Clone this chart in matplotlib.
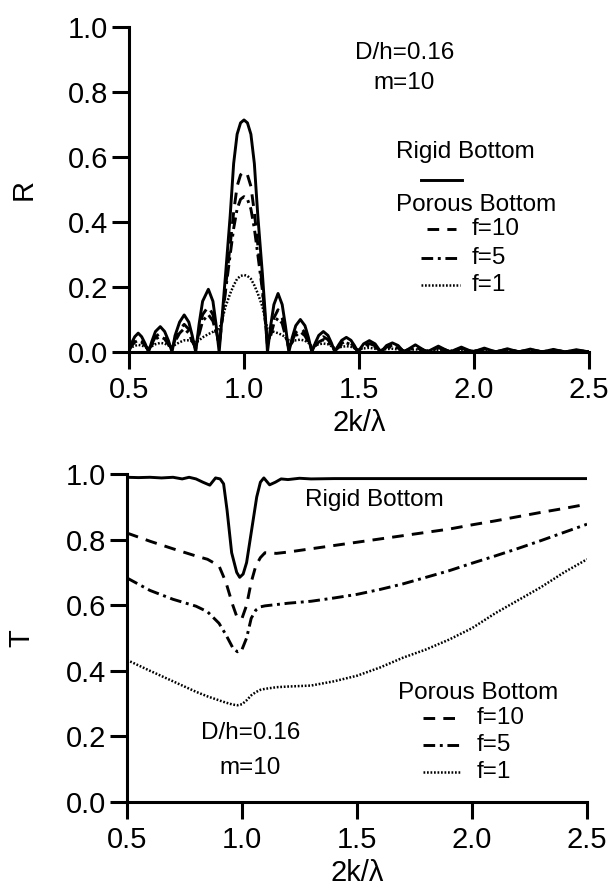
import matplotlib
matplotlib.use("Agg")
import matplotlib.pyplot as plt
from matplotlib.lines import Line2D

plt.rcParams['font.family'] = ['Liberation Sans', 'DejaVu Sans']

# ---------------- data: reflection R ----------------
k_R = [0.50, 0.51, 0.525, 0.54, 0.555, 0.57, 0.585,
       0.60, 0.615, 0.636, 0.655, 0.672, 0.687,
       0.70, 0.72, 0.74, 0.76, 0.775, 0.79,
       0.805, 0.82, 0.845, 0.865, 0.878, 0.892,
       0.905, 0.92, 0.94, 0.955, 0.97, 0.985, 1.00, 1.015, 1.03, 1.045,
       1.06, 1.08, 1.092, 1.102,
       1.116, 1.13, 1.148, 1.166, 1.18, 1.195,
       1.21, 1.225, 1.245, 1.265, 1.28, 1.295,
       1.31, 1.325, 1.345, 1.365, 1.38, 1.395,
       1.41, 1.425, 1.445, 1.465, 1.48, 1.495,
       1.52, 1.545, 1.57, 1.595,
       1.62, 1.645, 1.67, 1.695,
       1.745, 1.795, 1.845, 1.895, 1.945, 1.995, 2.045, 2.095,
       2.145, 2.195, 2.245, 2.295, 2.345, 2.395, 2.445, 2.50]

R_rigid = [0.00, 0.026, 0.047, 0.058, 0.047, 0.026, 0.00,
           0.034, 0.063, 0.078, 0.063, 0.034, 0.00,
           0.050, 0.092, 0.114, 0.092, 0.050, 0.00,
           0.087, 0.156, 0.193, 0.156, 0.087, 0.00,
           0.11, 0.24, 0.42, 0.58, 0.67, 0.705, 0.714, 0.705, 0.67, 0.58,
           0.42, 0.24, 0.12, 0.00,
           0.081, 0.146, 0.180, 0.146, 0.081, 0.00,
           0.045, 0.081, 0.100, 0.081, 0.045, 0.00,
           0.028, 0.051, 0.063, 0.051, 0.028, 0.00,
           0.020, 0.036, 0.045, 0.036, 0.020, 0.00,
           0.025, 0.035, 0.025, 0.00,
           0.020, 0.028, 0.020, 0.00,
           0.022, 0.00, 0.018, 0.00, 0.015, 0.00, 0.012, 0.00,
           0.010, 0.00, 0.009, 0.00, 0.008, 0.00, 0.007, 0.00]

R_f10 = [0.005, 0.020, 0.035, 0.043, 0.035, 0.020, 0.005,
         0.026, 0.047, 0.058, 0.047, 0.026, 0.008,
         0.038, 0.070, 0.085, 0.070, 0.038, 0.010,
         0.065, 0.115, 0.140, 0.115, 0.070, 0.020,
         0.10, 0.20, 0.33, 0.43, 0.51, 0.545, 0.555, 0.545, 0.51, 0.43,
         0.33, 0.20, 0.10, 0.020,
         0.060, 0.105, 0.130, 0.105, 0.060, 0.010,
         0.035, 0.060, 0.075, 0.060, 0.035, 0.006,
         0.022, 0.038, 0.047, 0.038, 0.022, 0.004,
         0.016, 0.027, 0.034, 0.027, 0.016, 0.003,
         0.019, 0.026, 0.019, 0.002,
         0.015, 0.021, 0.015, 0.002,
         0.016, 0.002, 0.013, 0.002, 0.011, 0.001, 0.009, 0.001,
         0.008, 0.001, 0.007, 0.001, 0.006, 0.001, 0.005, 0.001]

R_f5 = [0.008, 0.018, 0.030, 0.036, 0.030, 0.018, 0.008,
        0.022, 0.040, 0.048, 0.040, 0.022, 0.012,
        0.032, 0.058, 0.072, 0.058, 0.032, 0.015,
        0.055, 0.095, 0.115, 0.095, 0.060, 0.030,
        0.10, 0.19, 0.30, 0.38, 0.44, 0.47, 0.478, 0.47, 0.44, 0.38,
        0.30, 0.19, 0.10, 0.030,
        0.050, 0.088, 0.105, 0.088, 0.050, 0.015,
        0.030, 0.050, 0.062, 0.050, 0.030, 0.010,
        0.018, 0.031, 0.038, 0.031, 0.018, 0.006,
        0.013, 0.023, 0.028, 0.023, 0.013, 0.004,
        0.015, 0.021, 0.015, 0.003,
        0.012, 0.017, 0.012, 0.002,
        0.013, 0.002, 0.011, 0.002, 0.009, 0.002, 0.007, 0.001,
        0.006, 0.001, 0.005, 0.001, 0.005, 0.001, 0.004, 0.001]

R_f1 = [0.010, 0.014, 0.019, 0.022, 0.020, 0.016, 0.012,
        0.018, 0.024, 0.028, 0.026, 0.020, 0.016,
        0.022, 0.030, 0.036, 0.036, 0.033, 0.030,
        0.036, 0.045, 0.055, 0.062, 0.067, 0.070,
        0.10, 0.14, 0.18, 0.205, 0.225, 0.234, 0.237, 0.234, 0.225, 0.205,
        0.18, 0.14, 0.10, 0.072,
        0.066, 0.062, 0.058, 0.052, 0.046, 0.036,
        0.034, 0.036, 0.038, 0.035, 0.028, 0.018,
        0.020, 0.024, 0.026, 0.024, 0.018, 0.012,
        0.013, 0.016, 0.018, 0.016, 0.012, 0.008,
        0.011, 0.013, 0.010, 0.006,
        0.009, 0.010, 0.008, 0.005,
        0.008, 0.004, 0.007, 0.003, 0.006, 0.003, 0.005, 0.002,
        0.004, 0.002, 0.004, 0.002, 0.003, 0.001, 0.003, 0.001]

# ---------------- data: transmission T ----------------
k_T_rigid = [0.50, 0.55, 0.60, 0.65, 0.70, 0.74, 0.77, 0.80, 0.83, 0.86,
             0.885, 0.905, 0.92, 0.935, 0.955, 0.977, 0.99, 1.005, 1.02, 1.042,
             1.064, 1.08, 1.095, 1.12, 1.145, 1.17, 1.20, 1.25, 1.30, 1.40,
             1.60, 1.80, 2.00, 2.20, 2.50]
T_rigid = [0.990, 0.989, 0.990, 0.988, 0.990, 0.985, 0.990, 0.985, 0.975, 0.966,
           0.988, 0.985, 0.970, 0.890, 0.760, 0.700, 0.685, 0.695, 0.730, 0.830,
           0.930, 0.975, 0.988, 0.967, 0.975, 0.985, 0.983, 0.987, 0.985, 0.986,
           0.986, 0.986, 0.986, 0.986, 0.986]

k_T = [0.50, 0.60, 0.70, 0.80, 0.85, 0.90, 0.93, 0.96, 0.98, 1.00,
       1.02, 1.04, 1.06, 1.08, 1.10, 1.15, 1.20, 1.30, 1.40, 1.50,
       1.60, 1.70, 1.80, 1.90, 2.00, 2.10, 2.20, 2.30, 2.40, 2.50]
T_f10 = [0.820, 0.795, 0.772, 0.750, 0.740, 0.720, 0.670, 0.600, 0.560, 0.560,
         0.600, 0.670, 0.720, 0.745, 0.760, 0.758, 0.762, 0.772, 0.782, 0.792,
         0.802, 0.812, 0.822, 0.832, 0.845, 0.857, 0.870, 0.883, 0.895, 0.908]
T_f5 = [0.683, 0.645, 0.618, 0.597, 0.580, 0.545, 0.510, 0.470, 0.458, 0.465,
        0.500, 0.560, 0.585, 0.595, 0.598, 0.602, 0.606, 0.612, 0.622, 0.633,
        0.648, 0.665, 0.685, 0.705, 0.728, 0.750, 0.773, 0.797, 0.822, 0.847]
T_f1 = [0.433, 0.400, 0.368, 0.336, 0.322, 0.310, 0.303, 0.297, 0.295, 0.298,
        0.310, 0.325, 0.335, 0.342, 0.345, 0.350, 0.352, 0.355, 0.368, 0.385,
        0.410, 0.440, 0.465, 0.495, 0.530, 0.575, 0.615, 0.655, 0.700, 0.740]

x_ticks = [0.5, 1.0, 1.5, 2.0, 2.5]
y_ticks = [0.0, 0.2, 0.4, 0.6, 0.8, 1.0]

# ---------------- styles ----------------
LW = 2.1
ST_SOLID = dict(color='black', lw=LW, linestyle='-')
ST_F10 = dict(color='black', lw=LW, linestyle=(0, (4.0, 2.8)))
ST_F5 = dict(color='black', lw=LW, linestyle=(0, (4.0, 1.6, 1.0, 1.6)))
ST_F1 = dict(color='black', lw=1.8, linestyle=(0, (0.7, 0.7)))

W, H = 612, 891
fig = plt.figure(figsize=(W / 100, H / 100), dpi=100)
fig.patch.set_facecolor('white')


def px_axes(l, r, t, b):
    return fig.add_axes([l / W, 1 - b / H, (r - l) / W, (b - t) / H])


def style_axes(ax):
    ax.set_xlim(0.5, 2.5)
    ax.set_ylim(0.0, 1.0)
    ax.set_xticks(x_ticks)
    ax.set_yticks(y_ticks)
    ax.set_xticklabels([f"{v:.1f}" for v in x_ticks])
    ax.set_yticklabels([f"{v:.1f}" for v in y_ticks])
    for s in ['top', 'right']:
        ax.spines[s].set_visible(False)
    for s in ['left', 'bottom']:
        ax.spines[s].set_linewidth(2.2)
    ax.tick_params(axis='both', direction='out', length=12, width=2.2,
                   labelsize=21, pad=3)
    ax.tick_params(axis='x', pad=5)


def fig_text(x, y, s, **kw):
    fig.text(x / W, 1 - y / H, s, **kw)


def fig_line(x0, x1, y, style):
    fig.add_artist(Line2D([x0 / W, x1 / W], [1 - y / H, 1 - y / H],
                          transform=fig.transFigure, **style))


# ---------------- top panel: R ----------------
axR = px_axes(129, 589, 27, 352)
axR.plot(k_R, R_rigid, **ST_SOLID)
axR.plot(k_R, R_f10, **ST_F10)
axR.plot(k_R, R_f5, **ST_F5)
axR.plot(k_R, R_f1, **ST_F1)
style_axes(axR)
axR.set_xlabel("2k/λ", fontsize=21, labelpad=4)
axR.set_ylabel("R", fontsize=21, labelpad=22)

TS = 17.5
fig_text(405, 53, "D/h=0.16", fontsize=TS, ha='center', va='center')
fig_text(404, 83, "m=10", fontsize=TS, ha='center', va='center')
fig_text(396, 152, "Rigid Bottom", fontsize=TS, ha='left', va='center')
fig_line(421, 462, 180, ST_SOLID)
fig_text(396, 205, "Porous Bottom", fontsize=TS, ha='left', va='center')
fig_line(427, 456, 229, ST_F10)
fig_text(472, 229, "f=10", fontsize=TS, ha='left', va='center')
fig_line(421, 460, 258, ST_F5)
fig_text(472, 258, "f=5", fontsize=TS, ha='left', va='center')
fig_line(421, 460, 285, ST_F1)
fig_text(472, 285, "f=1", fontsize=TS, ha='left', va='center')

# ---------------- bottom panel: T ----------------
axT = px_axes(127, 587, 474, 802)
axT.plot(k_T_rigid, T_rigid, **ST_SOLID)
axT.plot(k_T, T_f10, **ST_F10)
axT.plot(k_T, T_f5, **ST_F5)
axT.plot(k_T, T_f1, **ST_F1)
style_axes(axT)
axT.set_xlabel("2k/λ", fontsize=21, labelpad=4)
axT.set_ylabel("T", fontsize=21, labelpad=22)

fig_text(305, 500, "Rigid Bottom", fontsize=TS, ha='left', va='center')
fig_text(398, 693, "Porous Bottom", fontsize=TS, ha='left', va='center')
fig_line(423, 460, 718, ST_F10)
fig_text(477, 718, "f=10", fontsize=TS, ha='left', va='center')
fig_line(423, 460, 745, ST_F5)
fig_text(477, 745, "f=5", fontsize=TS, ha='left', va='center')
fig_line(423, 460, 772, ST_F1)
fig_text(477, 772, "f=1", fontsize=TS, ha='left', va='center')
fig_text(251, 733, "D/h=0.16", fontsize=TS, ha='center', va='center')
fig_text(250, 768, "m=10", fontsize=TS, ha='center', va='center')

fig.savefig("out.png", dpi=100, facecolor='white')
